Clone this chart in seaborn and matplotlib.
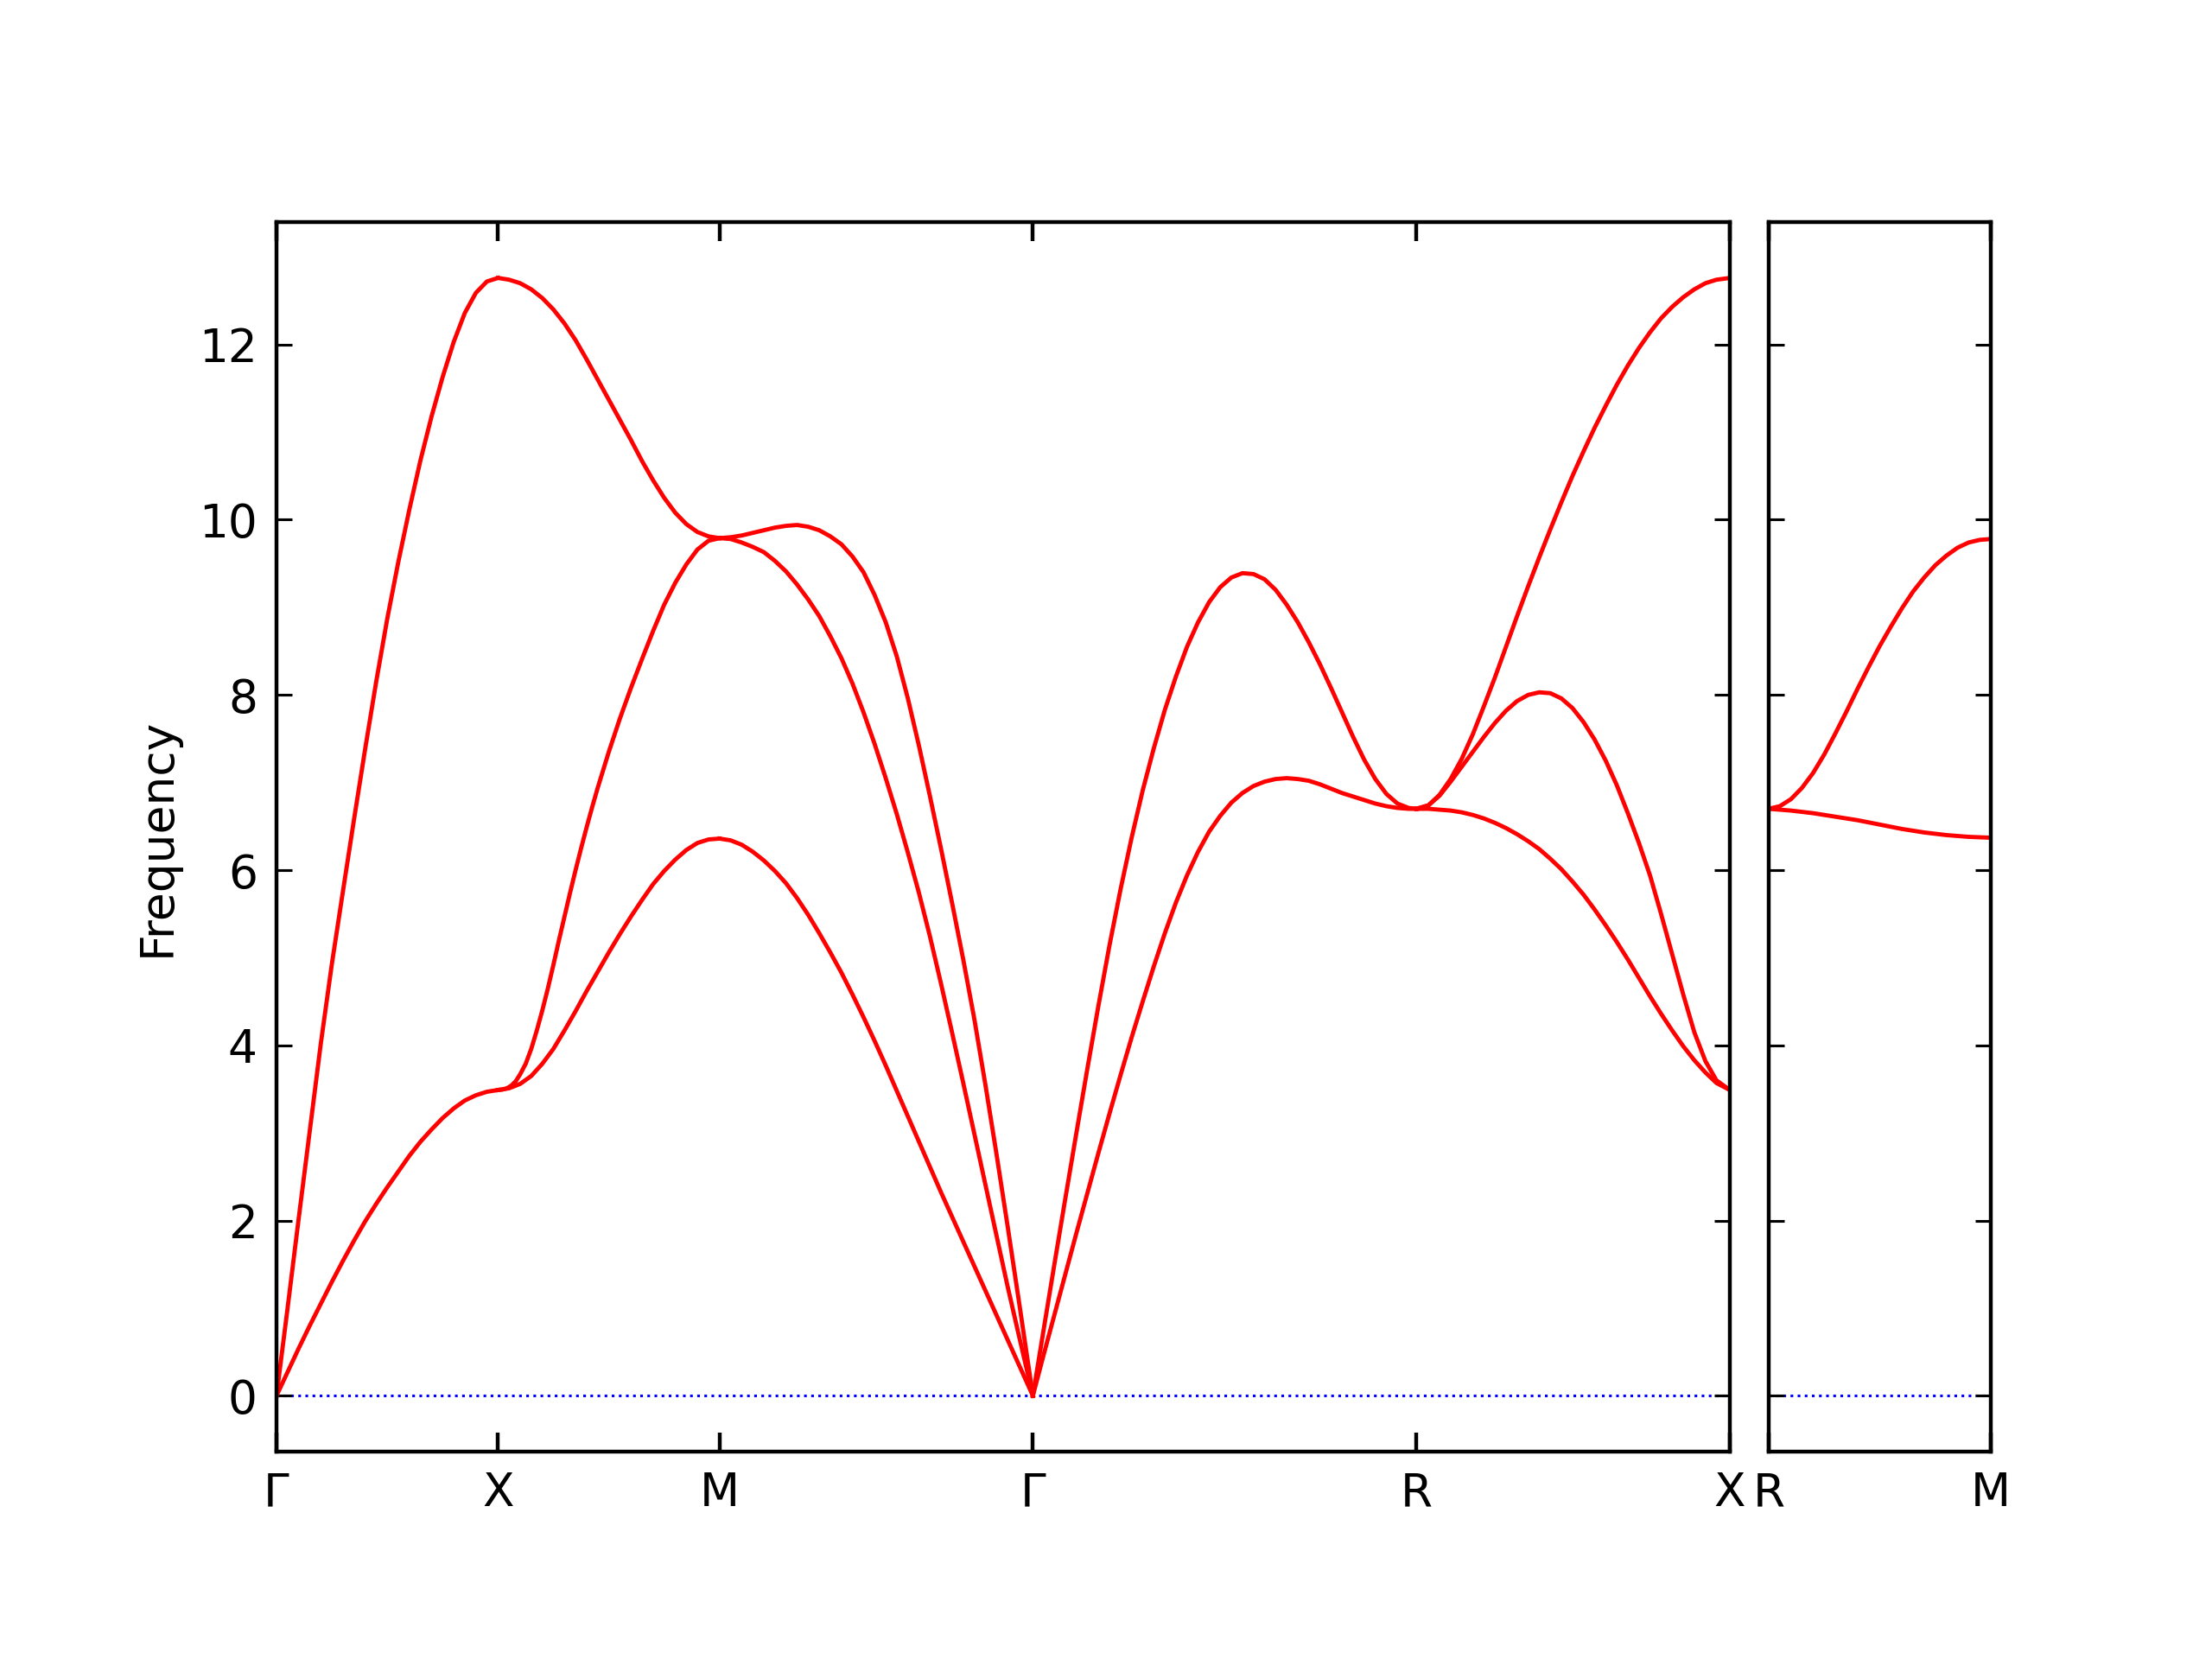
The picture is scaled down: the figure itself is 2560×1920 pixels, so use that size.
import numpy as np
import pandas as pd
import matplotlib
matplotlib.use("Agg")
import matplotlib.pyplot as plt
import seaborn as sns

# ---------------- data ----------------
path_pos = [0.0, 0.5, 1.0, 1.7071, 2.5731, 3.2802]
path_lab = ["Γ", "X", "M", "Γ", "R", "X"]
side_pos = [0.0, 0.5]
side_lab = ["R", "M"]
yticks = [0, 2, 4, 6, 8, 10, 12]

# Γ - X
gx_q = [0.0, 0.025, 0.05, 0.075, 0.1, 0.125, 0.15, 0.175, 0.2, 0.225, 0.25, 0.275, 0.3,
        0.325, 0.35, 0.375, 0.4, 0.425, 0.45, 0.475, 0.5]
gx_ta_f = [0.0, 0.27, 0.54, 0.80, 1.05, 1.30, 1.54, 1.77, 1.99, 2.19, 2.38, 2.56, 2.74,
           2.90, 3.04, 3.17, 3.28, 3.37, 3.43, 3.47, 3.49]
gx_la_f = [0.0, 1.0, 2.02, 3.02, 4.02, 4.93, 5.76, 6.58, 7.38, 8.15, 8.87, 9.52, 10.12,
           10.68, 11.18, 11.63, 12.03, 12.36, 12.59, 12.72, 12.76]

# X - M
xm_up_q = [0.5, 0.525, 0.55, 0.575, 0.6, 0.625, 0.65, 0.675, 0.7, 0.725, 0.75, 0.775, 0.8,
           0.825, 0.85, 0.875, 0.9, 0.925, 0.95, 0.975, 1.0]
xm_up_f = [12.76, 12.74, 12.7, 12.63, 12.53, 12.4, 12.24, 12.05, 11.83, 11.6, 11.37, 11.14, 10.91,
           10.67, 10.45, 10.25, 10.08, 9.95, 9.86, 9.81, 9.79]
xm_mid_q = [0.5, 0.51, 0.52, 0.53, 0.54, 0.55, 0.5625, 0.575, 0.5875, 0.6, 0.6125, 0.625, 0.6375,
            0.65, 0.6625, 0.675, 0.6875, 0.7, 0.7125, 0.725, 0.75, 0.775, 0.8, 0.825, 0.85,
            0.875, 0.9, 0.925, 0.95, 0.975, 1.0]
xm_mid_f = [3.49, 3.495, 3.51, 3.54, 3.59, 3.67, 3.79, 3.96, 4.17, 4.40, 4.65, 4.92, 5.20,
            5.47, 5.74, 6.0, 6.25, 6.49, 6.72, 6.94, 7.35, 7.73, 8.08, 8.41, 8.73,
            9.03, 9.28, 9.49, 9.66, 9.76, 9.79]
xm_low_q = [0.5, 0.525, 0.55, 0.575, 0.6, 0.625, 0.65, 0.675, 0.7, 0.725, 0.75, 0.775, 0.8,
            0.825, 0.85, 0.875, 0.9, 0.925, 0.95, 0.975, 1.0]
xm_low_f = [3.49, 3.51, 3.56, 3.65, 3.79, 3.96, 4.17, 4.39, 4.62, 4.84, 5.06, 5.27, 5.47,
            5.66, 5.84, 5.99, 6.12, 6.23, 6.31, 6.35, 6.36]

# M - Γ
mg_q = [1.0, 1.025, 1.05, 1.075, 1.1, 1.125, 1.15, 1.175, 1.2, 1.225, 1.25, 1.275, 1.3,
        1.325, 1.35, 1.375, 1.4, 1.425, 1.45, 1.475, 1.5, 1.525, 1.55, 1.575, 1.6,
        1.625, 1.65, 1.675, 1.7071]
mg_up_f = [9.79, 9.80, 9.82, 9.85, 9.88, 9.91, 9.93, 9.94, 9.92, 9.88, 9.81, 9.72, 9.58,
           9.40, 9.14, 8.83, 8.44, 7.96, 7.42, 6.84, 6.24, 5.62, 4.98, 4.30, 3.55,
           2.76, 1.94, 1.10, 0.0]
mg_mid_f = [9.79, 9.78, 9.74, 9.69, 9.63, 9.53, 9.41, 9.26, 9.09, 8.90, 8.67, 8.42, 8.13,
            7.80, 7.44, 7.05, 6.64, 6.20, 5.74, 5.24, 4.70, 4.14, 3.57, 2.99, 2.41,
            1.83, 1.25, 0.70, 0.0]
mg_low_f = [6.36, 6.34, 6.29, 6.21, 6.11, 5.99, 5.85, 5.68, 5.49, 5.28, 5.06, 4.83, 4.58,
            4.32, 4.05, 3.77, 3.48, 3.19, 2.90, 2.61, 2.32, 2.04, 1.76, 1.48, 1.20,
            0.92, 0.64, 0.36, 0.0]

# Γ - R
gr_q = [1.7071, 1.73, 1.755, 1.78, 1.805, 1.83, 1.855, 1.88, 1.905, 1.93, 1.955, 1.98, 2.005,
        2.03, 2.055, 2.08, 2.105, 2.13, 2.155, 2.18, 2.205, 2.23, 2.255, 2.28, 2.305,
        2.33, 2.355, 2.38, 2.405, 2.43, 2.455, 2.48, 2.505, 2.53, 2.555, 2.5731]
gr_up_f = [0.0, 0.71, 1.48, 2.24, 2.99, 3.73, 4.45, 5.14, 5.78, 6.37, 6.91, 7.39, 7.83,
           8.21, 8.55, 8.83, 9.06, 9.23, 9.34, 9.39, 9.38, 9.32, 9.20, 9.03, 8.83,
           8.60, 8.35, 8.08, 7.80, 7.52, 7.26, 7.04, 6.87, 6.76, 6.71, 6.70]
gr_low_f = [0.0, 0.44, 0.91, 1.38, 1.85, 2.31, 2.77, 3.22, 3.66, 4.09, 4.50, 4.90, 5.28,
            5.63, 5.94, 6.21, 6.44, 6.62, 6.77, 6.88, 6.96, 7.01, 7.04, 7.05, 7.04,
            7.02, 6.98, 6.93, 6.88, 6.84, 6.80, 6.76, 6.73, 6.71, 6.70, 6.70]

# R - X
rx_q = [2.5731, 2.6, 2.625, 2.65, 2.675, 2.7, 2.725, 2.75, 2.775, 2.8, 2.825, 2.85, 2.875,
        2.9, 2.925, 2.95, 2.975, 3.0, 3.025, 3.05, 3.075, 3.1, 3.125, 3.15, 3.175,
        3.2, 3.225, 3.25, 3.2802]
rx_up_f = [6.70, 6.74, 6.86, 7.04, 7.27, 7.55, 7.87, 8.20, 8.55, 8.90, 9.24, 9.57, 9.89,
           10.20, 10.50, 10.78, 11.05, 11.30, 11.54, 11.76, 11.96, 12.14, 12.30, 12.43, 12.54,
           12.63, 12.70, 12.74, 12.76]
rx_mid_f = [6.70, 6.74, 6.85, 7.01, 7.18, 7.35, 7.52, 7.68, 7.82, 7.93, 8.00, 8.03, 8.02,
            7.96, 7.85, 7.69, 7.49, 7.25, 6.97, 6.65, 6.31, 5.94, 5.50, 5.04, 4.58,
            4.15, 3.82, 3.60, 3.49]
rx_low_f = [6.70, 6.70, 6.69, 6.68, 6.66, 6.63, 6.59, 6.54, 6.48, 6.41, 6.33, 6.24, 6.13,
            6.01, 5.87, 5.72, 5.55, 5.37, 5.18, 4.98, 4.77, 4.56, 4.36, 4.17, 3.99,
            3.83, 3.69, 3.57, 3.49]

# R - M (side panel)
rm_q = [0.0, 0.025, 0.05, 0.075, 0.1, 0.125, 0.15, 0.175, 0.2, 0.225, 0.25, 0.275, 0.3,
        0.325, 0.35, 0.375, 0.4, 0.425, 0.45, 0.475, 0.5]
rm_up_f = [6.70, 6.73, 6.81, 6.94, 7.11, 7.32, 7.56, 7.81, 8.07, 8.32, 8.56, 8.78, 8.99,
           9.18, 9.34, 9.48, 9.59, 9.68, 9.74, 9.77, 9.78]
rm_low_f = [6.70, 6.69, 6.68, 6.665, 6.65, 6.63, 6.61, 6.59, 6.57, 6.545, 6.52, 6.495, 6.47,
            6.45, 6.43, 6.415, 6.40, 6.39, 6.38, 6.375, 6.37]

left_branches = {
    "gx_ta": (gx_q, gx_ta_f), "gx_la": (gx_q, gx_la_f),
    "xm_up": (xm_up_q, xm_up_f), "xm_mid": (xm_mid_q, xm_mid_f), "xm_low": (xm_low_q, xm_low_f),
    "mg_up": (mg_q, mg_up_f), "mg_mid": (mg_q, mg_mid_f), "mg_low": (mg_q, mg_low_f),
    "gr_up": (gr_q, gr_up_f), "gr_low": (gr_q, gr_low_f),
    "rx_up": (rx_q, rx_up_f), "rx_mid": (rx_q, rx_mid_f), "rx_low": (rx_q, rx_low_f),
}
right_branches = {"rm_up": (rm_q, rm_up_f), "rm_low": (rm_q, rm_low_f)}


def to_frame(branches):
    rows = []
    for name, (qs, fs) in branches.items():
        for q, f in zip(qs, fs):
            rows.append({"branch": name, "q": q, "freq": f})
    return pd.DataFrame(rows)


df_left = to_frame(left_branches)
df_right = to_frame(right_branches)

# ---------------- figure ----------------
plt.rcParams.update({
    "font.family": ["DejaVu Sans"],
    "font.size": 12,
    "axes.linewidth": 1.0,
    "lines.solid_joinstyle": "round",
})

W, H = 2560, 1920
fig = plt.figure(figsize=(8, 6), dpi=320)
bottom = 1 - 1680 / H
height = (1680 - 257) / H
ax1 = fig.add_axes([320 / W, bottom, (2002 - 320) / W, height])
ax2 = fig.add_axes([2047 / W, bottom, (2304 - 2047) / W, height], sharey=ax1)

for ax, df in ((ax1, df_left), (ax2, df_right)):
    ax.axhline(0, color="blue", linestyle=":", linewidth=0.7, zorder=1)
    sns.lineplot(data=df, x="q", y="freq", units="branch", estimator=None, sort=False,
                 color="red", linewidth=1.1, legend=False, ax=ax, zorder=2)
    ax.set_xlabel("")
    ax.set_ylabel("")
    ax.tick_params(axis="x", direction="in", top=True, bottom=True, length=5, width=1.0,
                   labelsize=12, pad=5)
    ax.tick_params(axis="y", direction="in", left=True, right=True, length=4, width=0.7,
                   labelsize=12, pad=5)

fmax = max(df_left["freq"].max(), df_right["freq"].max())
fmin = 0.0
span = fmax - fmin
ax1.set_ylim(fmin - 0.05 * span, fmax + 0.05 * span)
ax1.set_yticks(yticks)

ax1.set_xlim(path_pos[0], path_pos[-1])
ax1.set_xticks(path_pos)
ax1.set_xticklabels(path_lab)
ax2.set_xlim(side_pos[0], side_pos[-1])
ax2.set_xticks(side_pos)
ax2.set_xticklabels(side_lab)
ax2.tick_params(axis="y", labelleft=False)

ax1.set_ylabel("Frequency", fontsize=12, labelpad=5)

fig.savefig("out.png", dpi=320, facecolor="white")
